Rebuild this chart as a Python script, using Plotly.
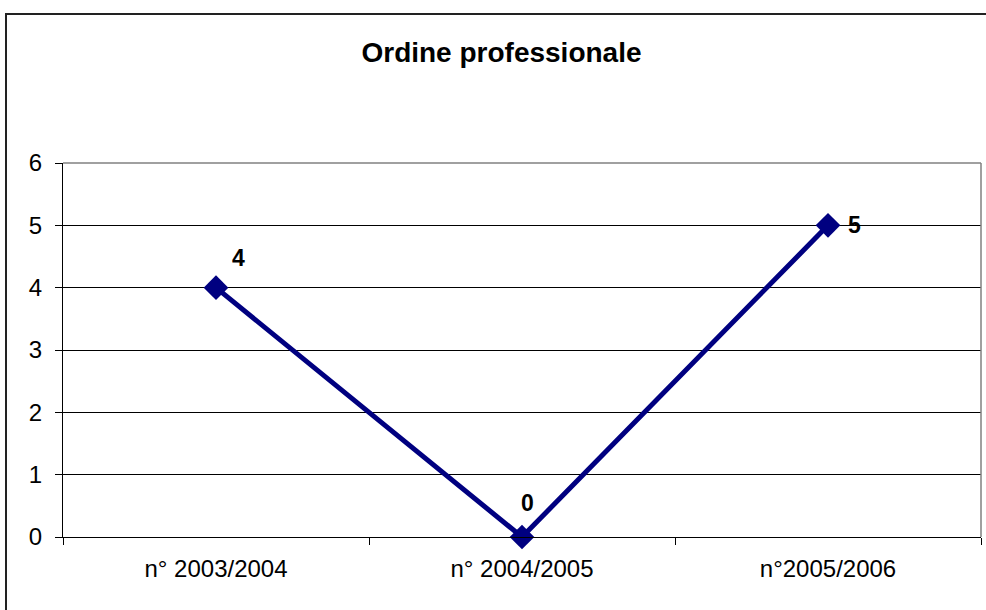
import plotly.graph_objects as go

categories = ["n° 2003/2004", "n° 2004/2005", "n°2005/2006"]
values = [4, 0, 5]
y_ticks = [0, 1, 2, 3, 4, 5, 6]

W, H = 986, 610
L, R, T, B = 63, 5, 163, 73
pw, ph = W - L - R, H - T - B

def px_x(px):
    return (px - L) / pw

def px_y(py):
    return (H - B - py) / ph

FONT = "Liberation Sans, Arial"

fig = go.Figure()
fig.add_trace(go.Scatter(
    x=categories, y=values, mode="lines+markers",
    line=dict(color="#000080", width=5),
    marker=dict(symbol="diamond", size=19, color="#000080"),
    cliponaxis=False, showlegend=False, hoverinfo="skip",
))

label_shifts = [(22, 30), (5, 34), (26, 0)]
for c, v, (dx, dy) in zip(categories, values, label_shifts):
    fig.add_annotation(x=c, y=v, text=f"<b>{v}</b>", showarrow=False,
                       xshift=dx, yshift=dy,
                       font=dict(family=FONT, size=23, color="black"))

fig.update_layout(
    width=W, height=H,
    margin=dict(l=L, r=R, t=T, b=B, autoexpand=False),
    paper_bgcolor="white", plot_bgcolor="white",
    font=dict(family=FONT, color="black"),
    title=dict(text="<b>Ordine professionale</b>", x=(355 + 648) / 2 / W, xanchor="center",
               y=1 - 52 / H, yanchor="middle",
               font=dict(size=28, family=FONT, color="black")),
    xaxis=dict(type="category", range=[-0.5, 2.5], showgrid=False, showline=True,
               linecolor="black", linewidth=1,
               ticks="outside", tickson="boundaries", ticklen=7, tickcolor="black",
               ticklabelstandoff=10,
               tickfont=dict(size=24), zeroline=False, fixedrange=True),
    yaxis=dict(range=[0, 6], tickvals=y_ticks, showgrid=True, gridcolor="black", gridwidth=1,
               showline=True, linecolor="black", linewidth=1, ticks="outside", ticklen=7,
               tickcolor="black", ticklabelstandoff=8,
               tickfont=dict(size=24), zeroline=False, fixedrange=True),
    shapes=[
        dict(type="line", xref="paper", yref="paper", x0=0, x1=1, y0=1, y1=1,
             line=dict(color="#808080", width=1.5)),
        dict(type="line", xref="paper", yref="paper", x0=1, x1=1, y0=0, y1=1,
             line=dict(color="#808080", width=1.5)),
        dict(type="rect", xref="paper", yref="paper",
             x0=px_x(6), x1=px_x(1000), y0=px_y(620), y1=px_y(14),
             line=dict(color="#222222", width=2), layer="above"),
    ],
)

fig.write_html("out.html", config={"displayModeBar": False},
               post_script="document.body.style.margin='0';")
